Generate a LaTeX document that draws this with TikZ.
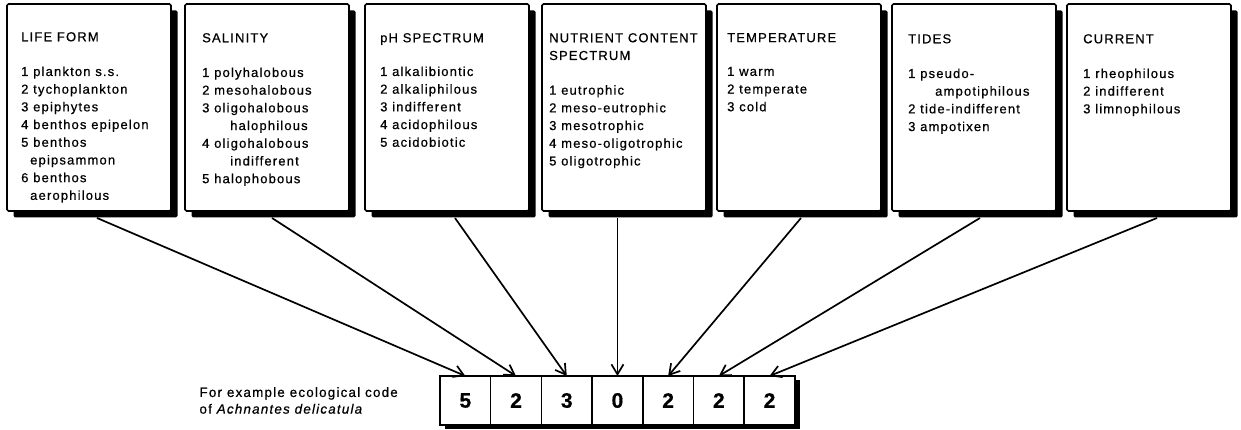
\documentclass[tikz,border=0pt]{standalone}
\usepackage{fontspec}
\setmainfont{Liberation Sans}[LetterSpace=9, FakeBold=0.6]
\usepackage{tikz}
\usetikzlibrary{positioning, arrows.meta, shadows}
\tikzset{
	>={Straight Barb[length=10pt,width=12pt]}, % open arrow heads
	factor/.style={draw, line width=1.7pt, rounded corners=1.5pt, fill=white, anchor=north west,
		minimum width=164pt, minimum height=207pt, inner sep=0pt, outer sep=0pt,
		drop shadow={shadow xshift=6.5pt, shadow yshift=-6.5pt, opacity=1, fill=black}}, % the category boxes
	factortext/.style={anchor=north west, align=left, inner sep=0pt, font=\fontsize{13}{17.7}\selectfont},
	digit/.style={draw, line width=1.5pt, fill=white, minimum width=50.7pt, minimum height=49pt,
		inner sep=0pt, outer sep=0pt, font=\fontsize{21}{21}\selectfont\bfseries,
		drop shadow={shadow xshift=5pt, shadow yshift=-4.5pt, opacity=1, fill=black}}, % cells of the code
	link/.style={->, line width=1.7pt},
	note/.style={align=left, inner sep=0pt, font=\fontsize{13.4}{16.7}\selectfont},
}
\begin{document}
\begin{tikzpicture}[x=1pt, y=1pt]
	\useasboundingbox (0,0) rectangle (1241,430);
	% category boxes
	\node[factor] (b1) at (7,426) {};
	\node[factor] (b2) at (185,426) {};
	\node[factor] (b3) at (365,426) {};
	\node[factor] (b4) at (542,426) {};
	\node[factor] (b5) at (717,426) {};
	\node[factor] (b6) at (892,426) {};
	\node[factor] (b7) at (1067,426) {};
	% their texts
	\node[factortext] (t1) at ([xshift=14pt,yshift=-28pt]b1.north west) {LIFE FORM\\[17pt]
		1 plankton s.s.\\ 2 tychoplankton\\ 3 epiphytes\\ 4 benthos epipelon\\ 5 benthos\\
		\hspace*{9pt}epipsammon\\ 6 benthos\\ \hspace*{9pt}aerophilous};
	\node[factortext] (t2) at ([xshift=17pt,yshift=-29pt]b2.north west) {SALINITY\\[17pt]
		1 polyhalobous\\ 2 mesohalobous\\ 3 oligohalobous\\ \hspace*{28pt}halophilous\\
		4 oligohalobous\\ \hspace*{28pt}indifferent\\ 5 halophobous};
	\node[factortext] (t3) at ([xshift=15pt,yshift=-29pt]b3.north west) {pH SPECTRUM\\[16pt]
		1 alkalibiontic\\ 2 alkaliphilous\\ 3 indifferent\\ 4 acidophilous\\ 5 acidobiotic};
	\node[factortext] (t4) at ([xshift=7pt,yshift=-29pt]b4.north west) {NUTRIENT CONTENT\\ SPECTRUM\\[17pt]
		1 eutrophic\\ 2 meso-eutrophic\\ 3 mesotrophic\\ 4 meso-oligotrophic\\ 5 oligotrophic};
	\node[factortext] (t5) at ([xshift=10pt,yshift=-29pt]b5.north west) {TEMPERATURE\\[16pt]
		1 warm\\ 2 temperate\\ 3 cold};
	\node[factortext] (t6) at ([xshift=16pt,yshift=-30pt]b6.north west) {TIDES\\[17pt]
		1 pseudo-\\ \hspace*{27pt}ampotiphilous\\ 2 tide-indifferent\\ 3 ampotixen};
	\node[factortext] (t7) at ([xshift=16pt,yshift=-30pt]b7.north west) {CURRENT\\[17pt]
		1 rheophilous\\ 2 indifferent\\ 3 limnophilous};
	% the ecological code
	\node[digit, anchor=north west] (c1) at (440,54) {5};
	\node[digit, right=0pt of c1] (c2) {2};
	\node[digit, right=0pt of c2] (c3) {3};
	\node[digit, right=0pt of c3] (c4) {0};
	\node[digit, right=0pt of c4] (c5) {2};
	\node[digit, right=0pt of c5] (c6) {2};
	\node[digit, right=0pt of c6] (c7) {2};
	\node[note, left=42pt of c1] (ex) {For example ecological code\\of \textit{Achnantes delicatula}};
	% arrows from the boxes to the code
	\draw[link] ([xshift=8pt,yshift=-7pt]b1.south) -- (c1.north);
	\draw[link] ([xshift=5pt,yshift=-7pt]b2.south) -- (c2.north);
	\draw[link] ([xshift=8pt,yshift=-7pt]b3.south) -- (c3.north);
	\draw[link] ([yshift=-7pt]c4.north |- b4.south) -- (c4.north);
	\draw[link] ([xshift=2pt,yshift=-7pt]b5.south) -- (c5.north);
	\draw[link] ([xshift=6pt,yshift=-7pt]b6.south) -- (c6.north);
	\draw[link] ([xshift=8pt,yshift=-7pt]b7.south) -- (c7.north);
\end{tikzpicture}
\end{document}
